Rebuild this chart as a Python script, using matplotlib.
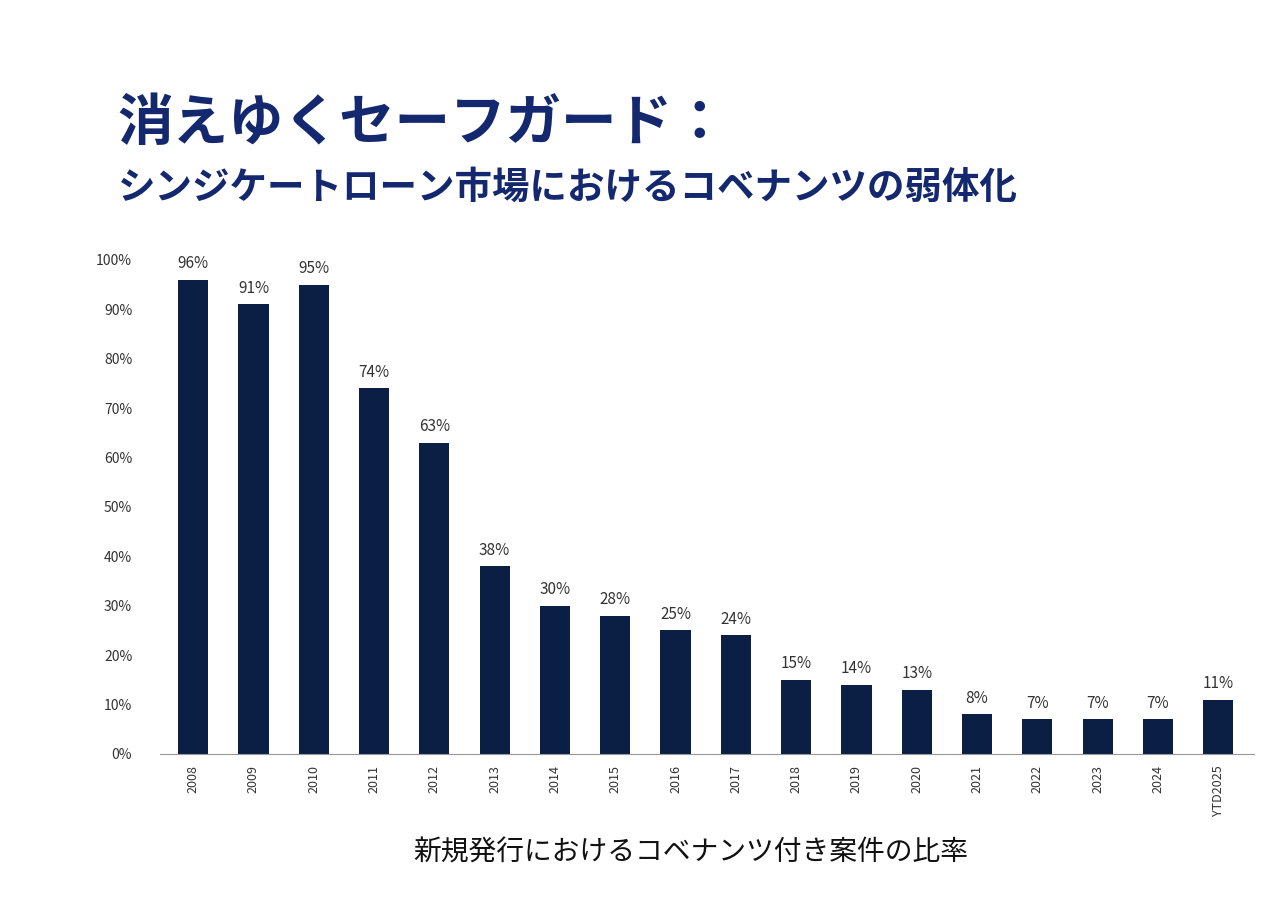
import matplotlib.pyplot as plt
import numpy as np

plt.rcParams['font.family'] = ['Noto Sans CJK JP', 'DejaVu Sans']

years = ['2008', '2009', '2010', '2011', '2012', '2013', '2014', '2015', '2016',
         '2017', '2018', '2019', '2020', '2021', '2022', '2023', '2024', 'YTD2025']
values = [96, 91, 95, 74, 63, 38, 30, 28, 25, 24, 15, 14, 13, 8, 7, 7, 7, 11]

fig = plt.figure(figsize=(12.8, 9.15), dpi=100)
fig.text(0.092, 0.865, '消えゆくセーフガード：', fontsize=40, fontweight='bold', color='#13286e', va='center')
fig.text(0.092, 0.795, 'シンジケートローン市場におけるコベナンツの弱体化', fontsize=27, fontweight='bold', color='#13286e', va='center')

ax = fig.add_axes([0.125, 0.176, 0.855, 0.54])
x = np.arange(len(years))
ax.bar(x, values, width=0.5, color='#0b1f45')
for xi, v in zip(x, values):
    ax.text(xi, v + 1.5, f'{v}%', ha='center', va='bottom', fontsize=11, color='#333333')
ax.set_xlim(-0.55, len(years) - 0.4)
ax.set_ylim(0, 100)
ax.set_yticks(np.arange(0, 101, 10))
ax.set_yticklabels([f'{t}%' for t in range(0, 101, 10)], fontsize=10, color='#333333')
ax.set_xticks(x)
ax.set_xticklabels(years, rotation=90, fontsize=9, color='#333333')
for s in ['top', 'right', 'left']:
    ax.spines[s].set_visible(False)
ax.spines['bottom'].set_color('#999999')
ax.tick_params(axis='y', length=0, pad=20)
ax.tick_params(axis='x', length=0, pad=8)

fig.text(0.54, 0.068, '新規発行におけるコベナンツ付き案件の比率', fontsize=20, ha='center', va='center', color='#111111')
fig.savefig('out.png')
